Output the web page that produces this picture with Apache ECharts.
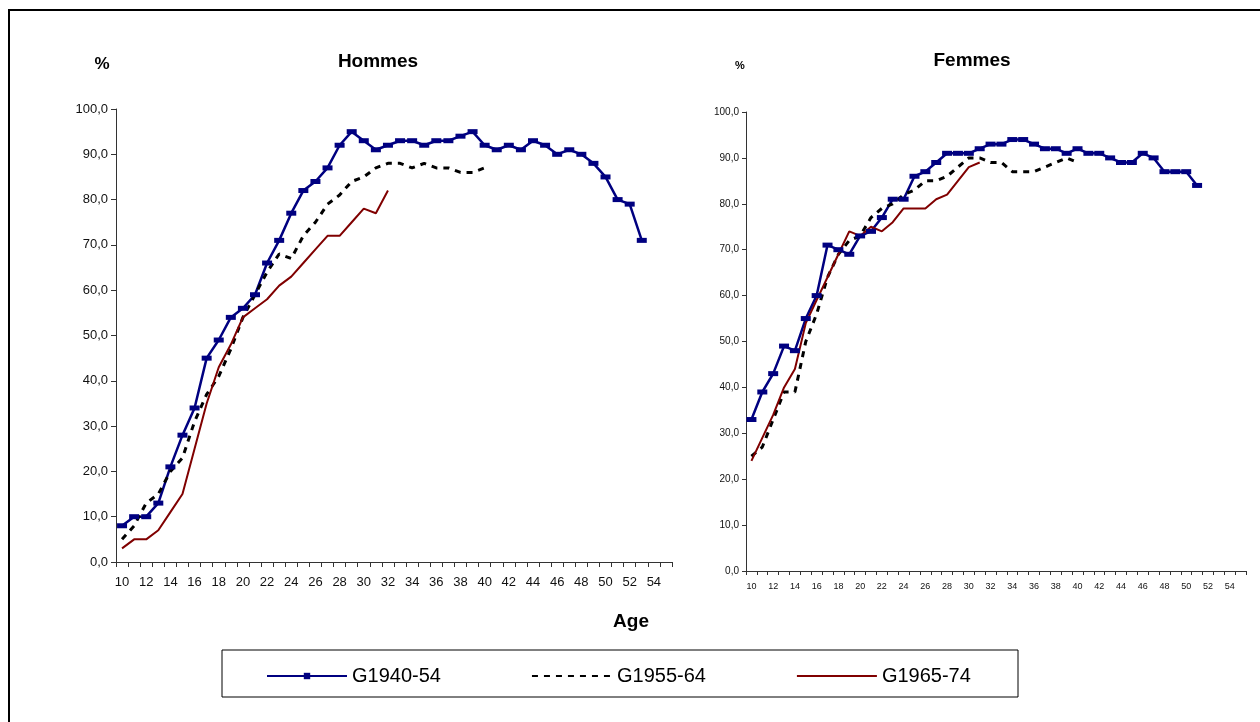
<!DOCTYPE html>
<html>
<head>
<meta charset="utf-8">
<script src="https://cdn.jsdelivr.net/npm/echarts@6/dist/echarts.min.js"></script>
<style>
  html, body { margin: 0; padding: 0; background: #fff; }
  #chart { width: 1260px; height: 722px; }
</style>
</head>
<body>
<div id="chart"></div>
<script>
// ages on the x axis (10..55)
const ages = []
for (let a = 10; a <= 55; a++) ages.push(String(a))

const seriesNames = ['G1940-54', 'G1955-64', 'G1965-74']

// Hommes
const hommesG1940 = [8, 10, 10, 13, 21, 28, 34, 45, 49, 54, 56, 59, 66, 71, 77, 82, 84, 87, 92, 95,
  93, 91, 92, 93, 93, 92, 93, 93, 94, 95, 92, 91, 92, 91, 93, 92, 90, 91, 90, 88, 85, 80, 79, 71]
const hommesG1955 = [5, 8, 13, 15, 20, 23, 31, 37, 41, 47, 54, 59, 64, 68, 67, 72, 75, 79, 81, 84,
  85, 87, 88, 88, 87, 88, 87, 87, 86, 86, 87]
const hommesG1965 = [3, 5, 5, 7, 11, 15, 25, 35, 43, 48, 54, 56, 58, 61, 63, 66, 69, 72, 72, 75,
  78, 77, 82]

// Femmes
const femmesG1940 = [33, 39, 43, 49, 48, 55, 60, 71, 70, 69, 73, 74, 77, 81, 81, 86, 87, 89, 91, 91,
  91, 92, 93, 93, 94, 94, 93, 92, 92, 91, 92, 91, 91, 90, 89, 89, 91, 90, 87, 87, 87, 84]
const femmesG1955 = [25, 27, 33, 39, 39, 50, 56, 64, 69, 72, 73, 77, 79, 80, 82, 83, 85, 85, 86, 88,
  90, 90, 89, 89, 87, 87, 87, 88, 89, 90, 89]
const femmesG1965 = [24, 29, 34, 40, 44, 54, 59, 64, 69, 74, 73, 75, 74, 76, 79, 79, 79, 81, 82, 85,
  88, 89]

const BLUE = '#000080'
const RED = '#800000'
const FONT = 'Arial, "Liberation Sans", sans-serif'

const fmt = v => v.toFixed(1).replace('.', ',')

const makeX = (gridIndex, fontSize, margin, tickLen) => ({
  type: 'category',
  gridIndex,
  data: ages,
  boundaryGap: true,
  axisLine: { show: true, lineStyle: { color: '#333', width: 1 } },
  axisTick: { show: true, interval: 0, alignWithLabel: false, length: tickLen, lineStyle: { color: '#333', width: 1 } },
  axisLabel: { interval: 1, color: '#111', fontSize, fontFamily: FONT, margin }
})

const makeY = (gridIndex, fontSize, margin, tickLen) => ({
  type: 'value',
  gridIndex,
  min: 0,
  max: 100,
  interval: 10,
  axisLine: { show: true, lineStyle: { color: '#333', width: 1 } },
  axisTick: { show: true, length: tickLen, lineStyle: { color: '#333' } },
  splitLine: { show: false },
  axisLabel: { formatter: fmt, color: '#111', fontSize, fontFamily: FONT, margin }
})

const makeSeries = (idx, blue, dashed, red) => [
  {
    name: seriesNames[0], type: 'line', xAxisIndex: idx, yAxisIndex: idx, data: blue,
    symbol: 'rect', symbolSize: [10, 5], showSymbol: true,
    itemStyle: { color: BLUE },
    lineStyle: { color: BLUE, width: 2.5 }
  },
  {
    name: seriesNames[1], type: 'line', xAxisIndex: idx, yAxisIndex: idx, data: dashed,
    symbol: 'none',
    itemStyle: { color: '#000' },
    lineStyle: { color: '#000', width: 3, type: [6, 6] }
  },
  {
    name: seriesNames[2], type: 'line', xAxisIndex: idx, yAxisIndex: idx, data: red,
    symbol: 'none',
    itemStyle: { color: RED },
    lineStyle: { color: RED, width: 2 }
  }
]

const text = (str, x, y, size) => ({
  type: 'text',
  x, y,
  style: {
    text: str,
    font: 'bold ' + size + 'px ' + FONT,
    fill: '#000',
    textAlign: 'center',
    textVerticalAlign: 'middle'
  }
})

const chart = echarts.init(document.getElementById('chart'))

chart.setOption({
  animation: false,
  backgroundColor: '#fff',
  grid: [
    { left: 116, top: 109, width: 556, height: 453 },
    { left: 746, top: 112, width: 500, height: 459 }
  ],
  xAxis: [makeX(0, 13, 14, 5), makeX(1, 9, 11, 4)],
  yAxis: [makeY(0, 13, 8, 5), makeY(1, 10, 7, 4)],
  legend: {
    left: 261,
    top: 661,
    itemWidth: 80,
    itemHeight: 8,
    itemGap: 90,
    data: [
      { name: seriesNames[0] },
      { name: seriesNames[1], itemStyle: { opacity: 0 } },
      { name: seriesNames[2], itemStyle: { opacity: 0 } }
    ],
    textStyle: { fontSize: 20, fontFamily: FONT, color: '#000' }
  },
  graphic: [
    {
      type: 'rect',
      shape: { x: 9, y: 10, width: 1400, height: 900 },
      style: { fill: 'none', stroke: '#000', lineWidth: 2 }
    },
    {
      type: 'rect',
      shape: { x: 222, y: 650, width: 796, height: 47 },
      style: { fill: 'none', stroke: '#000', lineWidth: 1 }
    },
    text('Hommes', 378, 62, 19),
    text('Femmes', 972, 61, 19),
    text('%', 102, 64, 17),
    text('%', 740, 66, 11),
    text('Age', 631, 622, 19)
  ],
  series: [
    ...makeSeries(0, hommesG1940, hommesG1955, hommesG1965),
    ...makeSeries(1, femmesG1940, femmesG1955, femmesG1965)
  ]
})
</script>
</body>
</html>
